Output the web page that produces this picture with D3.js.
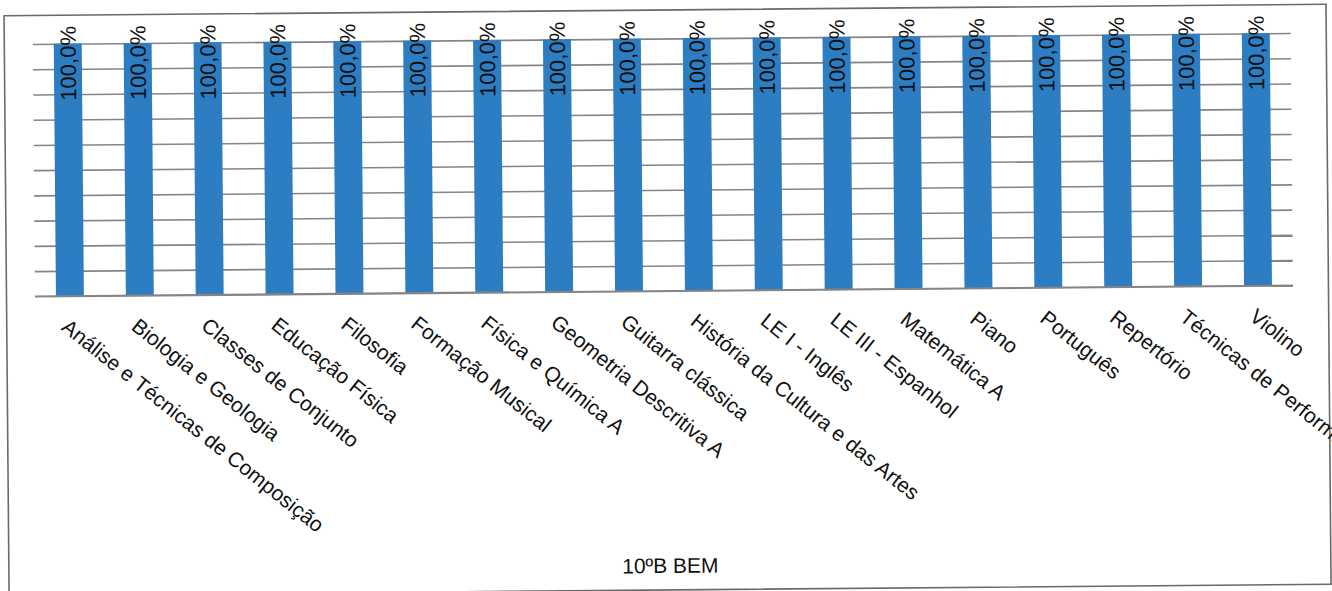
<!DOCTYPE html>
<html>
<head>
<meta charset="utf-8">
<script src="https://cdn.jsdelivr.net/npm/d3@7"></script>
<style>
  html, body { margin: 0; padding: 0; background: #fff; }
  svg { display: block; }
</style>
</head>
<body>
<svg id="chart" width="1332" height="591"></svg>
<script>
// ---- data ----
const categories = [
  "Análise e Técnicas de Composição",
  "Biologia e Geologia",
  "Classes de Conjunto",
  "Educação Física",
  "Filosofia",
  "Formação Musical",
  "Física e Química A",
  "Geometria Descritiva A",
  "Guitarra clássica",
  "História da Cultura e das Artes",
  "LE I - Inglês",
  "LE III - Espanhol",
  "Matemática A",
  "Piano",
  "Português",
  "Repertório",
  "Técnicas de Performance",
  "Violino"
];
const values = [100,100,100,100,100,100,100,100,100,100,100,100,100,100,100,100,100,100];
const valueLabels = values.map(v => v.toFixed(1).replace(".", ",") + "%");
const yTicks = [0,10,20,30,40,50,60,70,80,90,100];
const chartTitle = "10ºB BEM";

// ---- layout ----
const svg = d3.select("#chart");
const root = svg.append("g").attr("transform", "rotate(-0.5, 666, 295)");

root.append("rect")
  .attr("x", 6.5).attr("y", 10)
  .attr("width", 1322).attr("height", 580)
  .attr("fill", "none").attr("stroke", "#6a6a6a").attr("stroke-width", 1.6);

const x = d3.scaleBand().domain(categories).range([35, 1293])
  .paddingInner(0.6).paddingOuter(0.3);
const y = d3.scaleLinear().domain([0, 100]).range([290.8, 38.5]);

// gridlines
const grid = root.append("g")
  .attr("transform", "translate(35,0)")
  .call(d3.axisLeft(y).tickValues(yTicks).tickSize(-(1293 - 35)).tickFormat(""));
grid.select(".domain").remove();
grid.selectAll(".tick line").attr("stroke", "#858585").attr("stroke-width", 1.6);

// bars
root.append("g").selectAll("rect").data(values).join("rect")
  .attr("x", (d, i) => x(categories[i]))
  .attr("y", d => y(d))
  .attr("width", x.bandwidth())
  .attr("height", d => y(0) - y(d))
  .attr("fill", "#2d7dc3");

// data labels
root.append("g").selectAll("text").data(values).join("text")
  .attr("transform", (d, i) => `translate(${x(categories[i]) + x.bandwidth() / 2},${y(d) + 57}) rotate(-90)`)
  .attr("dy", "0.36em")
  .attr("text-anchor", "start")
  .attr("font-family", "Liberation Sans, Arial, sans-serif")
  .attr("font-size", 22)
  .attr("fill", "#111")
  .text((d, i) => valueLabels[i]);

// x axis labels
const xAxis = root.append("g")
  .attr("transform", `translate(0,${y(0)})`)
  .call(d3.axisBottom(x).tickSize(0).tickPadding(0));
xAxis.select(".domain").attr("stroke", "#858585").attr("stroke-width", 1.6)
  .attr("d", `M35,0H1293`);
xAxis.selectAll(".tick text")
  .attr("font-family", "Liberation Sans, Arial, sans-serif")
  .attr("font-size", 21)
  .attr("fill", "#111")
  .attr("text-anchor", "start")
  .attr("y", 0).attr("dy", "0.75em")
  .attr("transform", "translate(0,21) rotate(39)");

// title
root.append("text")
  .attr("x", 668).attr("y", 573)
  .attr("text-anchor", "middle")
  .attr("font-family", "Liberation Sans, Arial, sans-serif")
  .attr("font-size", 21)
  .attr("fill", "#111")
  .text(chartTitle);
</script>
</body>
</html>
